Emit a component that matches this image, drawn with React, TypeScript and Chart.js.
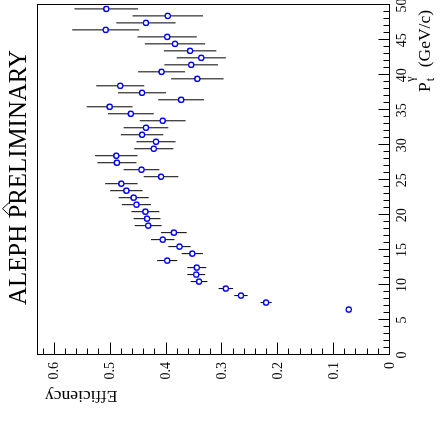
import React, { useEffect, useRef } from "react";
import { Chart, registerables } from "chart.js";

Chart.register(...registerables);

// pT bin centres (GeV/c)
const ptBins = [
  6.5, 7.5, 8.5, 9.5, 10.5, 11.5, 12.5, 13.5, 14.5, 15.5, 16.5, 17.5, 18.5, 19.5, 20.5,
  21.5, 22.5, 23.5, 24.5, 25.5, 26.5, 27.5, 28.5, 29.5, 30.5, 31.5, 32.5, 33.5, 34.5,
  35.5, 36.5, 37.5, 38.5, 39.5, 40.5, 41.5, 42.5, 43.5, 44.5, 45.5, 46.5, 47.5, 48.5, 49.5,
];

const efficiency = [
  0.072, 0.22, 0.265, 0.292, 0.34, 0.345, 0.344, 0.397, 0.352, 0.375, 0.405, 0.385, 0.431,
  0.433, 0.436, 0.452, 0.457, 0.47, 0.479, 0.408, 0.443, 0.487, 0.488, 0.421, 0.417, 0.442,
  0.435, 0.405, 0.462, 0.5, 0.372, 0.442, 0.481, 0.343, 0.407, 0.354, 0.336, 0.356, 0.383,
  0.397, 0.507, 0.435, 0.396, 0.506,
];

const effError = [
  0.003, 0.01, 0.012, 0.013, 0.015, 0.016, 0.017, 0.018, 0.019, 0.02, 0.021, 0.023, 0.024,
  0.024, 0.025, 0.026, 0.027, 0.029, 0.029, 0.031, 0.032, 0.035, 0.038, 0.035, 0.035, 0.038,
  0.04, 0.041, 0.041, 0.041, 0.041, 0.043, 0.043, 0.047, 0.042, 0.048, 0.044, 0.047, 0.054,
  0.053, 0.06, 0.053, 0.063, 0.057,
];

const ptTickValues = [0, 5, 10, 15, 20, 25, 30, 35, 40, 45, 50];
const ptTickLabels = ["0", "5", "10", "15", "20", "25", "30", "35", "40", "45", "50"];
const effTickValues = [0, 0.1, 0.2, 0.3, 0.4, 0.5, 0.6];
const effTickLabels = ["0", "0.1", "0.2", "0.3", "0.4", "0.5", "0.6"];

const PT_MIN = 0;
const PT_MAX = 50;
const EFF_MIN = 0;
const EFF_MAX = 0.63;

const CANVAS_W = 425;
const CANVAS_H = 440;
const SERIF = "'Liberation Serif', 'Times New Roman', Times, serif";

const rootStyle = {
  id: "rootStyle",
  beforeDatasetsDraw(chart: any) {
    const { ctx, scales } = chart;
    const x = scales.x;
    const y = scales.y;
    ctx.save();
    ctx.strokeStyle = "#000";
    ctx.lineWidth = 1;
    ptBins.forEach((p, i) => {
      const px = x.getPixelForValue(p);
      const y1 = y.getPixelForValue(efficiency[i] - effError[i]);
      const y2 = y.getPixelForValue(efficiency[i] + effError[i]);
      ctx.beginPath();
      ctx.moveTo(px, y1);
      ctx.lineTo(px, y2);
      ctx.stroke();
    });
    ctx.restore();
  },
  afterDraw(chart: any) {
    const { ctx, scales, chartArea } = chart;
    const x = scales.x;
    const y = scales.y;
    const L = Math.round(chartArea.left) + 0.5;
    const R = Math.round(chartArea.right) + 0.5;
    const T = Math.round(chartArea.top) + 0.5;
    const B = Math.round(chartArea.bottom) + 0.5;
    ctx.save();
    ctx.strokeStyle = "#000";
    ctx.lineWidth = 1;
    ctx.strokeRect(L, T, R - L, B - T);

    // pT ticks (inside, from bottom edge)
    for (let v = PT_MIN; v <= PT_MAX; v += 1) {
      const px = Math.round(x.getPixelForValue(v)) + 0.5;
      const len = v % 5 === 0 ? 11 : 6;
      ctx.beginPath();
      ctx.moveTo(px, B);
      ctx.lineTo(px, B - len);
      ctx.stroke();
    }
    // efficiency ticks (inside, from left edge)
    for (let k = 0; k * 0.02 <= EFF_MAX + 1e-9; k += 1) {
      const py = Math.round(y.getPixelForValue(k * 0.02)) + 0.5;
      const len = k % 5 === 0 ? 12 : 6;
      ctx.beginPath();
      ctx.moveTo(L, py);
      ctx.lineTo(L + len, py);
      ctx.stroke();
    }

    ctx.fillStyle = "#000";
    // tick labels
    ctx.font = `14px ${SERIF}`;
    ctx.textAlign = "center";
    ctx.textBaseline = "alphabetic";
    ptTickValues.forEach((v, i) => {
      ctx.fillText(ptTickLabels[i], x.getPixelForValue(v), 406);
    });
    ctx.textAlign = "right";
    effTickValues.forEach((v, i) => {
      ctx.fillText(effTickLabels[i], 63, y.getPixelForValue(v) + 4.7);
    });

    // y title (Efficiency), rotated, right-aligned at top
    ctx.save();
    ctx.font = `17.5px ${SERIF}`;
    ctx.translate(34, 45);
    ctx.rotate(-Math.PI / 2);
    ctx.textAlign = "right";
    ctx.fillText("Efficiency", 0, 0);
    ctx.restore();

    // x title: P_t^gamma (GeV/c)
    ctx.textAlign = "left";
    ctx.font = `17.5px ${SERIF}`;
    const pStart = 333;
    ctx.fillText("P", pStart, 430);
    const wP = ctx.measureText("P").width;
    ctx.font = `12px ${SERIF}`;
    ctx.fillText("\u03B3", pStart + wP + 0.5, 414);
    ctx.fillText("t", pStart + wP + 1, 434);
    ctx.font = `17.5px ${SERIF}`;
    ctx.textAlign = "right";
    ctx.fillText("(GeV/c)", 415, 430);

    // ALEPH PRELIMINARY
    ctx.textAlign = "left";
    ctx.font = `26px ${SERIF}`;
    const label = "ALEPH PRELIMINARY";
    const full = ctx.measureText(label).width;
    const s = 255 / full;
    const startX = 120;
    ctx.save();
    ctx.translate(startX, 26);
    ctx.scale(s, 1);
    ctx.fillText(label, 0, 0);
    ctx.restore();
    const wBefore = ctx.measureText("ALEPH ").width * s;
    const wPP = ctx.measureText("P").width * s;
    const cx = startX + wBefore + wPP / 2 + 3;
    ctx.beginPath();
    ctx.moveTo(cx - 7, 10);
    ctx.lineTo(cx, 2.5);
    ctx.lineTo(cx + 7, 10);
    ctx.stroke();

    ctx.restore();
  },
};

export default function App() {
  const ref = useRef<HTMLCanvasElement>(null);
  useEffect(() => {
    if (!ref.current) return;
    const chart = new Chart(ref.current, {
      type: "scatter",
      data: {
        datasets: [
          {
            data: ptBins.map((p, i) => ({ x: p, y: efficiency[i] })),
            pointRadius: 2.6,
            pointBorderWidth: 1.4,
            pointBorderColor: "#0000ff",
            pointBackgroundColor: "#ffffff",
            showLine: false,
          },
        ],
      },
      options: {
        responsive: false,
        animation: false,
        devicePixelRatio: 1,
        events: [],
        layout: { padding: { left: 70, right: 3, top: 37, bottom: 51 } },
        plugins: { legend: { display: false }, tooltip: { enabled: false } },
        scales: {
          x: { type: "linear", min: PT_MIN, max: PT_MAX, display: false },
          y: { type: "linear", min: EFF_MIN, max: EFF_MAX, display: false },
        },
      },
      plugins: [rootStyle],
    } as any);
    let alive = true;
    if ((document as any).fonts && (document as any).fonts.load) {
      (document as any).fonts
        .load(`14px "Liberation Serif"`)
        .then(() => {
          if (alive) chart.update();
        })
        .catch(() => {});
    }
    return () => {
      alive = false;
      chart.destroy();
    };
  }, []);
  return (
    <div
      style={{
        position: "fixed",
        left: 0,
        top: 0,
        width: 440,
        height: 425,
        overflow: "hidden",
        background: "#fff",
      }}
    >
      <canvas
        ref={ref}
        width={CANVAS_W}
        height={CANVAS_H}
        style={{
          position: "absolute",
          left: 0,
          top: 0,
          width: CANVAS_W,
          height: CANVAS_H,
          transformOrigin: "0 0",
          transform: "translateY(425px) rotate(-90deg)",
        }}
      />
    </div>
  );
}
